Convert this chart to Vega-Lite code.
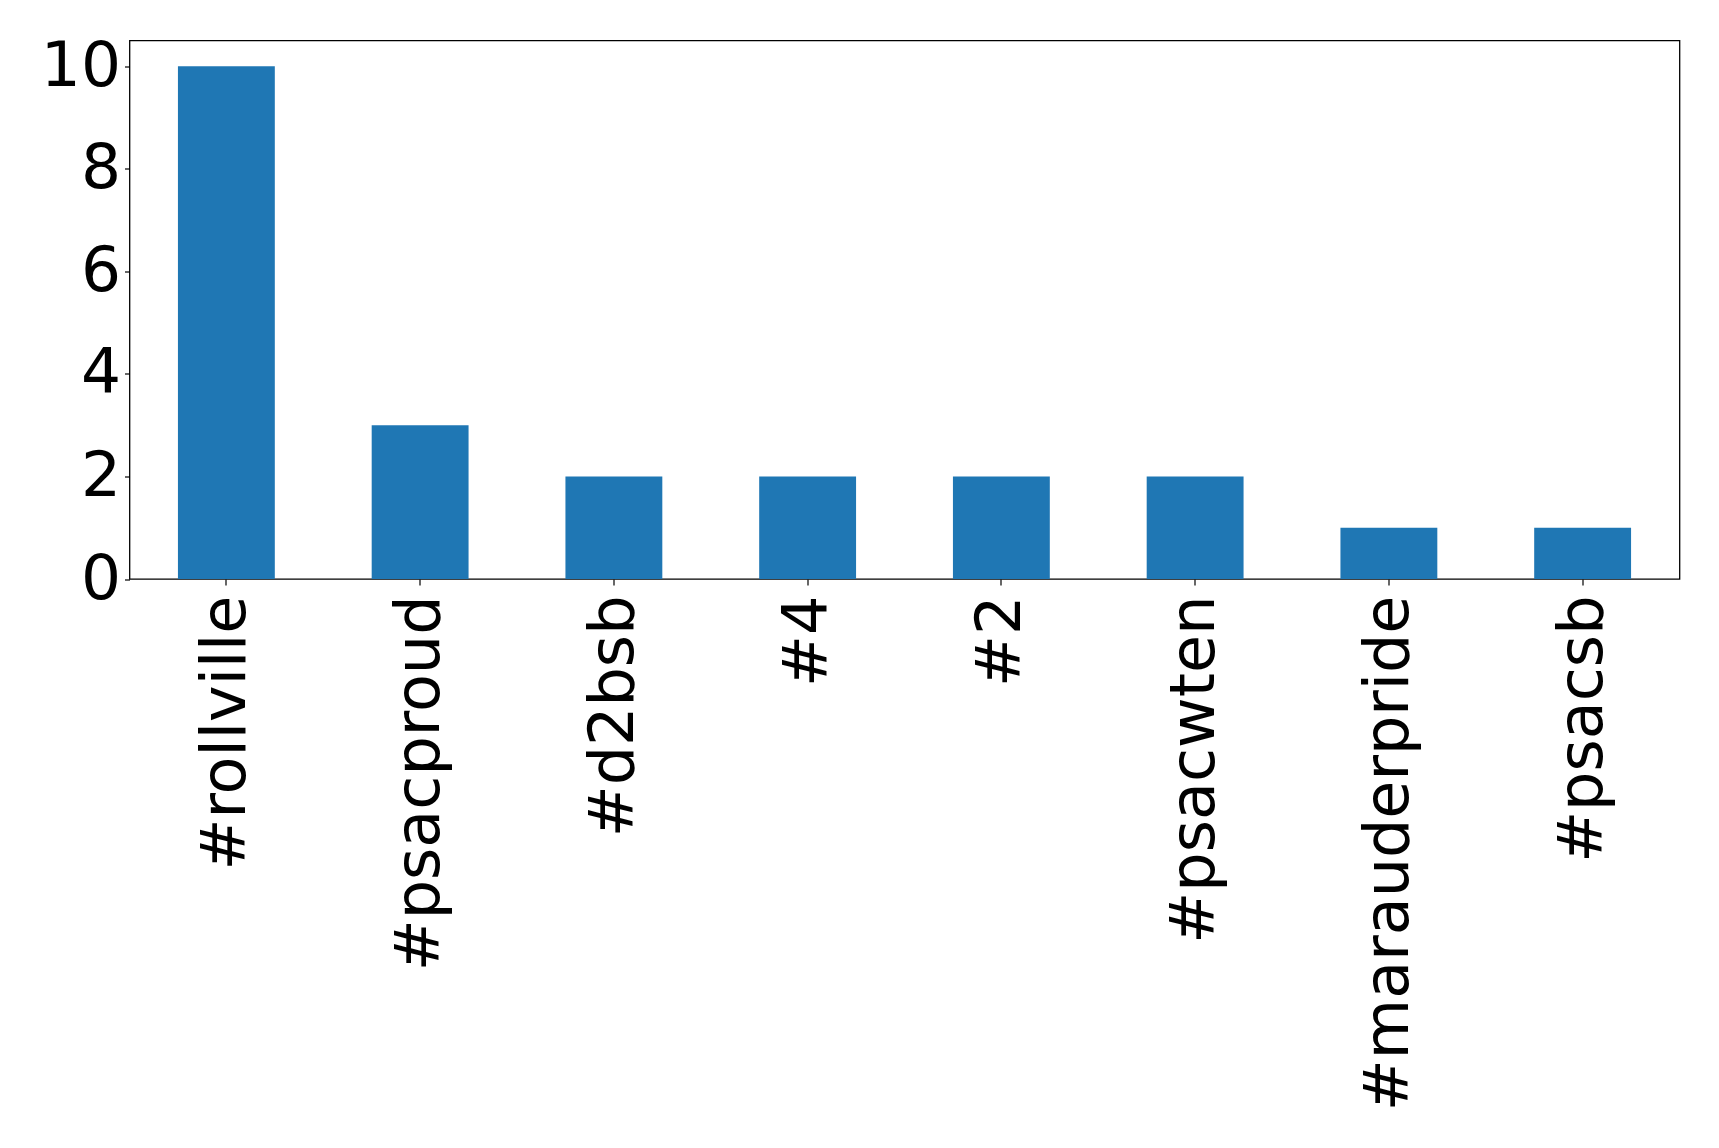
{
  "$schema": "https://vega.github.io/schema/vega-lite/v6.json",
  "autosize": "none",
  "width": 1550,
  "height": 538.5,
  "padding": {"left": 129.5, "top": 40.5, "right": 39.5, "bottom": 569},
  "background": "white",
  "config": {
    "view": {"stroke": "black", "strokeWidth": 1.3},
    "font": "DejaVu Sans"
  },
  "data": {
    "values": [
      {"tag": "#rollville", "count": 10},
      {"tag": "#psacproud", "count": 3},
      {"tag": "#d2bsb", "count": 2},
      {"tag": "#4", "count": 2},
      {"tag": "#2", "count": 2},
      {"tag": "#psacwten", "count": 2},
      {"tag": "#marauderpride", "count": 1},
      {"tag": "#psacsb", "count": 1}
    ]
  },
  "mark": {"type": "bar", "color": "#1f77b4"},
  "encoding": {
    "x": {
      "field": "tag",
      "type": "nominal",
      "sort": null,
      "scale": {"paddingInner": 0.5, "paddingOuter": 0.25},
      "axis": {
        "title": null,
        "labelAngle": 270,
        "labelAlign": "right",
        "labelBaseline": "middle",
        "labelFont": "DejaVu Sans",
        "labelFontSize": 62,
        "labelColor": "black",
        "labelPadding": 10,
        "tickSize": 6,
        "tickColor": "black",
        "tickWidth": 1.2,
        "domain": false,
        "labelOverlap": false,
        "labelLimit": 0
      }
    },
    "y": {
      "field": "count",
      "type": "quantitative",
      "scale": {"domain": [0, 10.5], "nice": false, "zero": true},
      "axis": {
        "title": null,
        "values": [0, 2, 4, 6, 8, 10],
        "labelFont": "DejaVu Sans",
        "labelFontSize": 63,
        "labelColor": "black",
        "labelPadding": 4,
        "labelBaseline": "middle",
        "tickSize": 5,
        "tickColor": "black",
        "tickWidth": 1.2,
        "domain": false,
        "grid": false,
        "labelOverlap": false
      }
    }
  }
}
